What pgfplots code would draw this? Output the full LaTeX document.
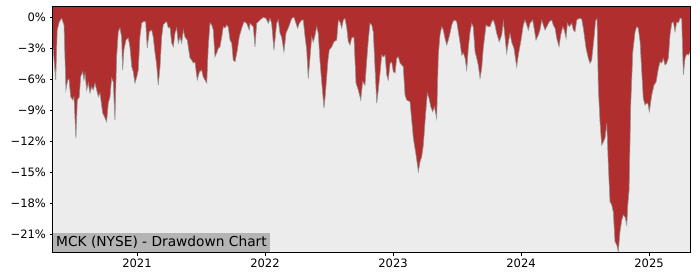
\documentclass[border=0pt]{standalone}
\usepackage{pgfplots}
\usepackage{pgfplotstable}
\pgfplotsset{compat=1.18}
\usepackage{fontspec}
\setmainfont{DejaVu Sans}
\definecolor{ddred}{HTML}{B02E2E}
\definecolor{bgc}{HTML}{ECECEC}
\definecolor{boxc}{HTML}{B4B4B4}
\pgfplotstableread{
x y
2020.344 -2.87
2020.365 -6.10
2020.377 -1.26
2020.393 -0.45
2020.412 -0.13
2020.430 -0.77
2020.445 -7.06
2020.459 -6.10
2020.469 -6.00
2020.482 -7.71
2020.498 -8.03
2020.508 -7.74
2020.523 -11.71
2020.534 -8.03
2020.549 -7.74
2020.560 -5.78
2020.576 -5.29
2020.586 -6.10
2020.594 -5.42
2020.607 -7.06
2020.620 -6.39
2020.633 -7.35
2020.646 -6.77
2020.659 -7.06
2020.672 -6.39
2020.685 -7.06
2020.698 -7.71
2020.711 -7.35
2020.732 -9.29
2020.750 -9.77
2020.763 -10.13
2020.776 -8.32
2020.789 -7.74
2020.802 -5.90
2020.815 -6.29
2020.828 -9.97
2020.841 -3.84
2020.854 -1.42
2020.867 -1.06
2020.880 -1.94
2020.888 -5.13
2020.898 -3.19
2020.914 -2.23
2020.932 -2.03
2020.945 -2.90
2020.959 -4.81
2020.971 -5.29
2020.984 -6.39
2020.998 -5.81
2021.010 -5.13
2021.023 -1.91
2021.037 -0.58
2021.049 -0.45
2021.068 -0.45
2021.080 -3.00
2021.096 -1.42
2021.115 -1.26
2021.127 -1.94
2021.141 -3.48
2021.154 -4.65
2021.166 -6.58
2021.180 -4.84
2021.193 -1.91
2021.205 -0.77
2021.219 -0.55
2021.232 -0.45
2021.245 -1.06
2021.258 -0.97
2021.271 -2.52
2021.284 -2.87
2021.297 -1.55
2021.310 -1.06
2021.323 -2.52
2021.336 -1.94
2021.349 -2.52
2021.362 -1.26
2021.375 -1.94
2021.393 -2.23
2021.414 -3.97
2021.427 -4.16
2021.440 -4.45
2021.453 -4.35
2021.471 -6.10
2021.487 -5.32
2021.505 -5.13
2021.518 -5.81
2021.545 -6.39
2021.557 -2.87
2021.570 -0.58
2021.584 -0.77
2021.596 -1.26
2021.609 -3.84
2021.623 -3.48
2021.635 -3.03
2021.648 -2.90
2021.662 -1.94
2021.674 -0.94
2021.688 -1.06
2021.701 -0.77
2021.713 -0.97
2021.727 -2.23
2021.740 -2.52
2021.752 -4.16
2021.766 -4.33
2021.784 -3.19
2021.799 -1.91
2021.818 -1.09
2021.836 -0.45
2021.857 -0.61
2021.877 -1.26
2021.883 -0.61
2021.896 -0.77
2021.909 -0.97
2021.922 -2.87
2021.935 -0.61
2021.961 -0.29
2021.987 -0.03
2022.008 -0.13
2022.026 -0.61
2022.039 -0.13
2022.052 -0.61
2022.070 -3.19
2022.091 -0.61
2022.104 -0.29
2022.117 -1.55
2022.130 -1.94
2022.148 -3.36
2022.164 -1.55
2022.182 -1.06
2022.195 -0.61
2022.209 -0.13
2022.227 -0.03
2022.242 -0.61
2022.255 -1.09
2022.268 -0.61
2022.287 -0.29
2022.299 -0.29
2022.313 -1.91
2022.326 -3.19
2022.338 -5.93
2022.352 -3.87
2022.365 -1.91
2022.377 -2.42
2022.391 -1.74
2022.404 -0.94
2022.416 -1.55
2022.430 -4.33
2022.445 -6.58
2022.461 -8.81
2022.471 -7.55
2022.482 -5.78
2022.492 -4.16
2022.502 -3.19
2022.521 -2.90
2022.539 -2.39
2022.560 -2.23
2022.573 -0.29
2022.586 -0.48
2022.599 -1.06
2022.612 -0.29
2022.625 -0.13
2022.638 -0.97
2022.651 -2.39
2022.664 -2.71
2022.677 -2.03
2022.695 -1.94
2022.711 -6.39
2022.729 -7.06
2022.748 -8.03
2022.763 -6.26
2022.781 -6.58
2022.795 -4.16
2022.807 -2.23
2022.820 -0.61
2022.834 -0.77
2022.846 -1.45
2022.859 -4.81
2022.873 -8.32
2022.885 -7.06
2022.898 -5.50
2022.912 -3.68
2022.924 -3.87
2022.938 -3.68
2022.951 -5.61
2022.963 -6.10
2022.977 -4.48
2022.990 -4.35
2023.002 -5.29
2023.016 -5.42
2023.029 -4.00
2023.041 -3.84
2023.055 -4.45
2023.068 -4.65
2023.080 -4.81
2023.094 -7.55
2023.107 -8.03
2023.133 -8.20
2023.159 -11.74
2023.180 -13.35
2023.198 -14.97
2023.211 -14.00
2023.224 -13.52
2023.237 -12.39
2023.250 -10.13
2023.268 -7.38
2023.281 -7.84
2023.295 -8.68
2023.310 -9.16
2023.323 -8.68
2023.341 -9.80
2023.354 -3.68
2023.367 -1.74
2023.380 -0.94
2023.393 -1.26
2023.406 -2.06
2023.420 -2.71
2023.432 -2.23
2023.445 -1.58
2023.459 -0.77
2023.471 -0.39
2023.484 -0.29
2023.498 -0.48
2023.510 -1.42
2023.523 -2.42
2023.537 -3.68
2023.549 -3.48
2023.563 -3.97
2023.576 -5.13
2023.588 -3.03
2023.602 -1.42
2023.615 -0.61
2023.627 -0.97
2023.641 -3.36
2023.654 -3.97
2023.666 -4.65
2023.680 -5.93
2023.693 -4.94
2023.705 -3.03
2023.727 -0.77
2023.745 -0.94
2023.758 -0.94
2023.771 -0.45
2023.784 -0.29
2023.797 -0.77
2023.810 -1.58
2023.830 -2.39
2023.849 -1.74
2023.862 -0.45
2023.875 -1.94
2023.888 -3.51
2023.901 -2.42
2023.914 -1.58
2023.927 -2.42
2023.945 -3.03
2023.966 -4.81
2023.979 -3.68
2023.998 -2.39
2024.018 -0.77
2024.031 -0.29
2024.045 -0.77
2024.057 -1.26
2024.070 -0.61
2024.091 -0.29
2024.102 -1.06
2024.117 -2.23
2024.135 -1.74
2024.148 -1.26
2024.162 -0.29
2024.174 -0.77
2024.188 -1.26
2024.201 -0.94
2024.221 -0.45
2024.240 -0.29
2024.252 -0.77
2024.266 -1.09
2024.279 -2.06
2024.297 -2.87
2024.310 -1.74
2024.326 -0.94
2024.338 -1.26
2024.352 -2.06
2024.362 -0.61
2024.377 -0.94
2024.396 -0.61
2024.409 -1.26
2024.422 -1.42
2024.435 -0.29
2024.455 -0.13
2024.474 -0.19
2024.487 -1.09
2024.508 -3.03
2024.526 -4.00
2024.539 -4.48
2024.552 -4.16
2024.570 -2.06
2024.582 -0.39
2024.594 -0.13
2024.604 -6.90
2024.617 -10.13
2024.630 -12.39
2024.643 -12.10
2024.656 -11.71
2024.670 -10.29
2024.682 -14.32
2024.695 -17.87
2024.709 -18.19
2024.721 -18.87
2024.734 -21.74
2024.748 -22.06
2024.760 -22.71
2024.773 -20.78
2024.787 -19.64
2024.799 -19.16
2024.813 -19.35
2024.826 -20.13
2024.834 -18.19
2024.844 -16.74
2024.857 -8.52
2024.873 -3.36
2024.891 -1.42
2024.904 -0.94
2024.916 -1.06
2024.930 -2.39
2024.943 -5.29
2024.955 -7.87
2024.969 -8.52
2024.982 -8.32
2024.992 -8.42
2025.002 -9.16
2025.021 -7.55
2025.039 -6.58
2025.055 -6.29
2025.073 -4.96
2025.086 -4.33
2025.099 -4.45
2025.112 -4.00
2025.125 -4.65
2025.138 -4.45
2025.151 -3.97
2025.164 -1.74
2025.177 -0.61
2025.190 -0.48
2025.203 -1.42
2025.216 -0.48
2025.229 -0.58
2025.242 -0.13
2025.255 -0.13
2025.268 -5.61
2025.281 -4.00
2025.294 -3.58
2025.307 -3.68
2025.320 -3.39
}\dd
\begin{document}
\begin{tikzpicture}
\begin{axis}[
  at={(0,0)}, anchor=south west,
  scale only axis,
  width=637bp, height=245bp,
  xmin=2020.344, xmax=2025.32,
  ymin=-22.74, ymax=0.97,
  axis background/.style={fill=bgc},
  axis on top,
  axis line style={line width=1bp},
  xtick={2021,2022,2023,2024,2025},
  xticklabels={2021,2022,2023,2024,2025},
  ytick={-21,-18,-15,-12,-9,-6,-3,0},
  yticklabels={−21\%,−18\%,−15\%,−12\%,−9\%,−6\%,−3\%,0\%},
  xtick pos=bottom, ytick pos=left,
  tick align=outside,
  major tick length=3.5bp,
  tick style={line width=0.8bp, black},
  ticklabel style={font=\fontsize{11.6}{13}\selectfont},
  yticklabel style={xshift=0bp},
  clip=true,
]
\addplot[fill=ddred, draw=none] table[x=x,y=y] {\dd} |- (axis cs:2020.344,2) -- cycle;
\addplot[draw=gray!85, line width=0.6bp, no marks] table[x=x,y=y] {\dd};
\node[anchor=south west, fill=boxc, inner xsep=3bp, inner ysep=0bp, minimum height=19bp, font=\fontsize{13.8}{15}\selectfont] at (rel axis cs:0,0) {MCK (NYSE) - Drawdown Chart};
\end{axis}
\pgfresetboundingbox
\path[use as bounding box] (-53bp,-28bp) rectangle (647bp,252bp);
\end{tikzpicture}
\end{document}
